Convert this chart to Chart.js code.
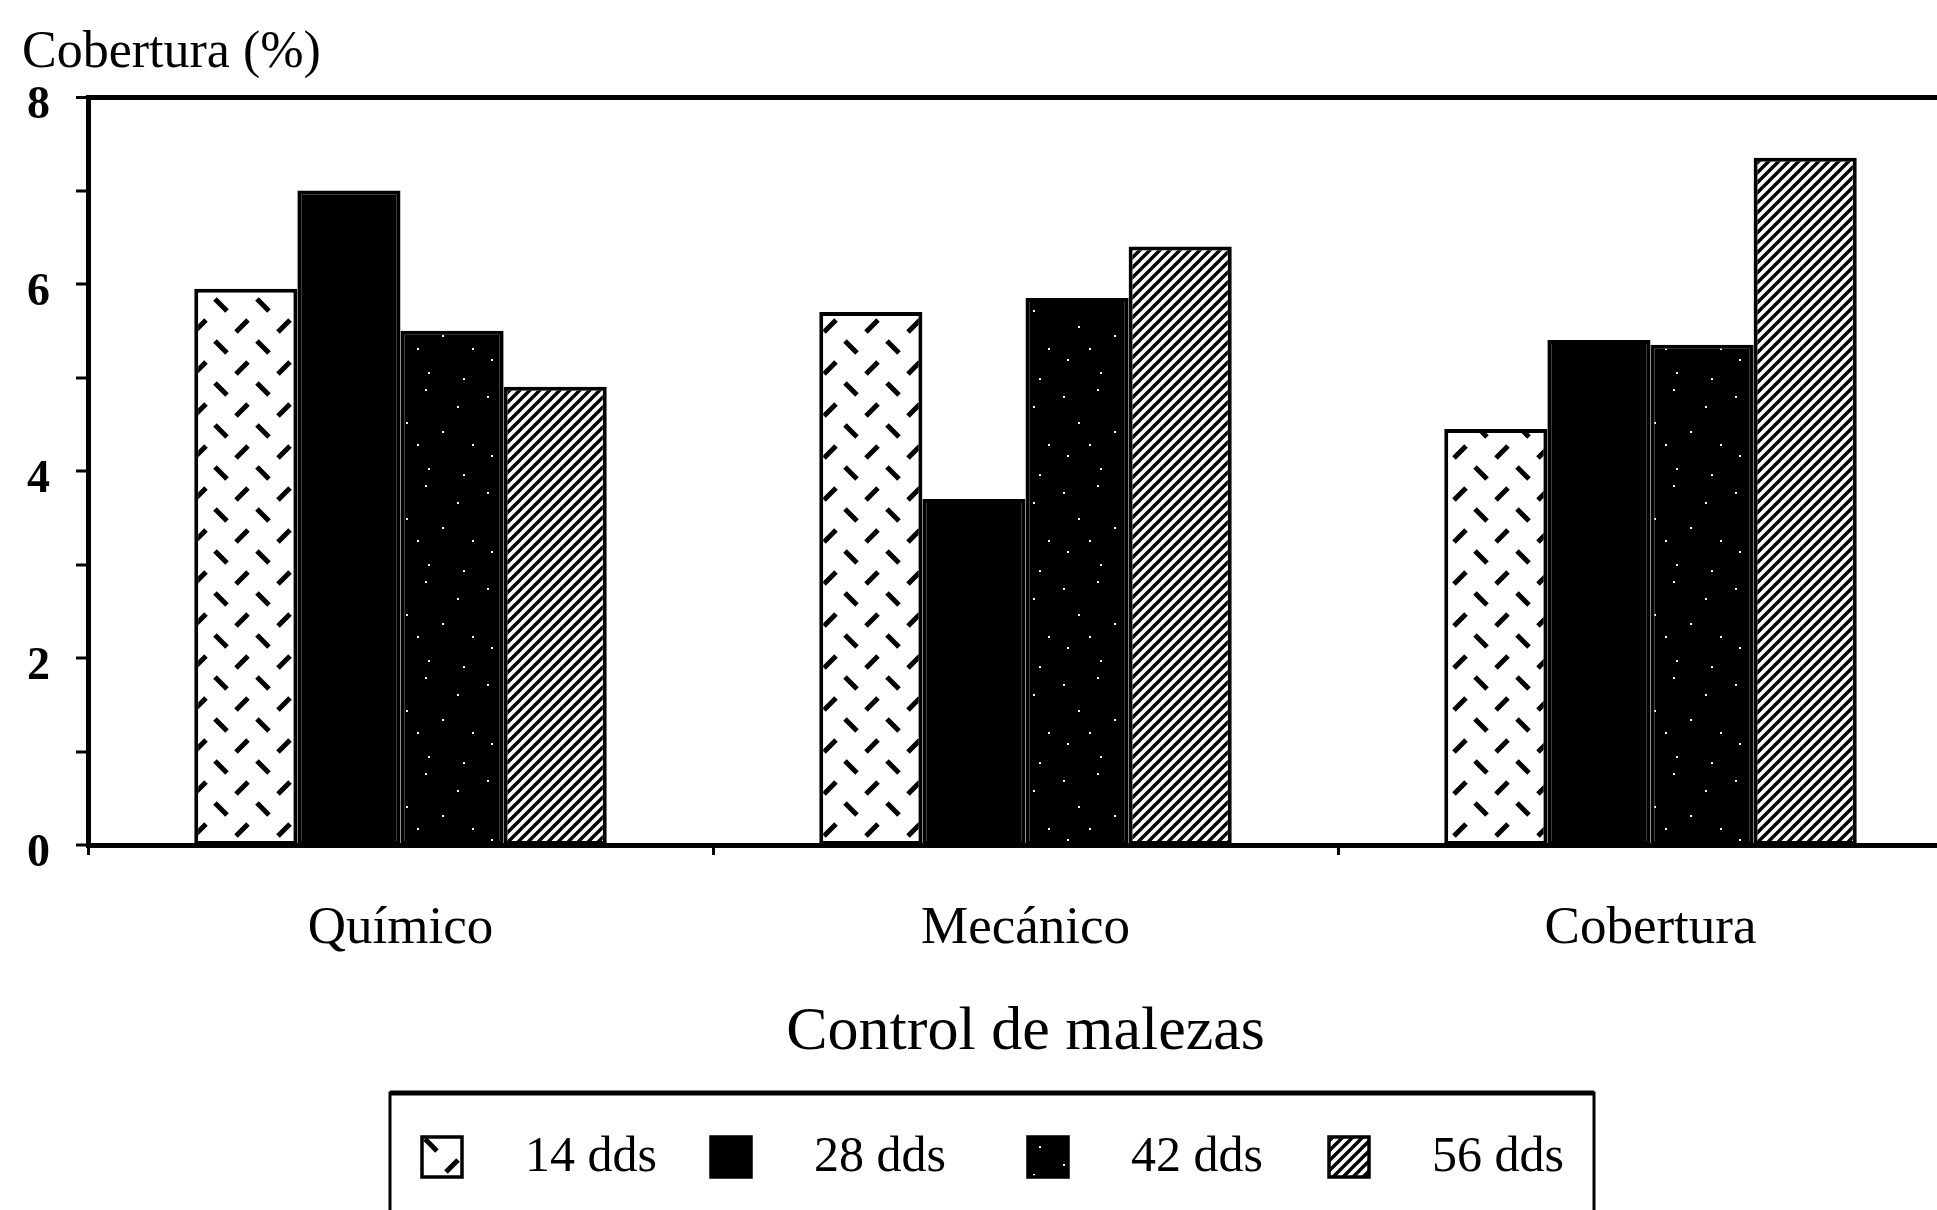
<!DOCTYPE html>
<html>
<head>
<meta charset="utf-8">
<script src="https://cdn.jsdelivr.net/npm/chart.js@4/dist/chart.umd.min.js"></script>
<style>
  html, body { margin: 0; padding: 0; background: #fff; overflow: hidden; }
  canvas { display: block; }
</style>
</head>
<body>
<canvas id="chart" width="1965" height="1210"></canvas>
<script>
// Weed cover per control method, sampled at four dates (días después de siembra)
const categories = ['Químico', 'Mecánico', 'Cobertura'];
const seriesLabels = ['14 dds', '28 dds', '42 dds', '56 dds'];
const dds14 = [5.95, 5.7, 4.45];
const dds28 = [7.0, 3.7, 5.4];
const dds42 = [5.5, 5.85, 5.35];
const dds56 = [4.9, 6.4, 7.35];
const yTickLabels = [0, 2, 4, 6, 8];
const yCaption = 'Cobertura (%)';
const xCaption = 'Control de malezas';

const SERIF = '"Liberation Serif", "Times New Roman", serif';

// ---- fill patterns -------------------------------------------------------
function makeTile(w, h, paint) {
  const c = document.createElement('canvas');
  c.width = w; c.height = h;
  paint(c.getContext('2d'), w, h);
  return c;
}

const canvas = document.getElementById('chart');
const ctx = canvas.getContext('2d');

// white ground with alternating short "\" and "/" dashes
const dashTile = makeTile(42, 42, (g, w, h) => {
  g.fillStyle = '#fff'; g.fillRect(0, 0, w, h);
  g.strokeStyle = '#000'; g.lineWidth = 5; g.lineCap = 'butt';
  g.beginPath();
  g.moveTo(5, 5); g.lineTo(17, 17);
  g.moveTo(26, 38); g.lineTo(38, 26);
  g.stroke();
});

// solid black
const solidFill = '#000';

// black with sparse white speckles
const speckleTile = makeTile(96, 96, (g, w, h) => {
  g.fillStyle = '#000'; g.fillRect(0, 0, w, h);
  g.fillStyle = '#fff';
  const dots = [[7, 12], [41, 5], [73, 22], [22, 38], [58, 47], [88, 60], [11, 71], [44, 84], [79, 90], [33, 60]];
  dots.forEach(([x, y]) => g.fillRect(x, y, 2, 2));
});

// dense "/" hatching
const hatchTile = makeTile(10, 10, (g, w, h) => {
  g.fillStyle = '#fff'; g.fillRect(0, 0, w, h);
  g.strokeStyle = '#000'; g.lineWidth = 3.4;
  g.beginPath();
  g.moveTo(-2, 12); g.lineTo(12, -2);
  g.moveTo(-7, 7); g.lineTo(7, -7);
  g.moveTo(3, 17); g.lineTo(17, 3);
  g.stroke();
});

const fills = [
  ctx.createPattern(dashTile, 'repeat'),
  solidFill,
  ctx.createPattern(speckleTile, 'repeat'),
  ctx.createPattern(hatchTile, 'repeat')
];
const seriesValues = [dds14, dds28, dds42, dds56];

// ---- captions and boxed legend -------------------------------------------
const legendBox = { left: 390, top: 1093, right: 1594, bottom: 1216 };
const legendColumns = [32, 321, 638, 939];   // icon offsets inside the box
const legendIcon = 40;
const legendTextGap = 63;

const decorations = {
  id: 'decorations',
  afterDraw(chart) {
    const c = chart.ctx;
    c.save();
    c.fillStyle = '#000';
    c.textAlign = 'left';
    c.textBaseline = 'alphabetic';
    c.font = '52px ' + SERIF;
    c.fillText(yCaption, 22, 67);

    // legend frame
    c.strokeStyle = '#000';
    c.lineWidth = 3;
    c.strokeRect(legendBox.left, legendBox.top, legendBox.right - legendBox.left, legendBox.bottom - legendBox.top);
    c.lineWidth = 5;
    c.beginPath();
    c.moveTo(legendBox.left, legendBox.top);
    c.lineTo(legendBox.right, legendBox.top);
    c.stroke();

    const iconTop = legendBox.top + 44;
    chart.data.datasets.forEach((ds, i) => {
      const x = legendBox.left + legendColumns[i];
      c.fillStyle = ds.backgroundColor;
      c.fillRect(x, iconTop, legendIcon, legendIcon);
      c.lineWidth = 3.5;
      c.strokeStyle = '#000';
      c.strokeRect(x, iconTop, legendIcon, legendIcon);
      c.fillStyle = '#000';
      c.font = '50px ' + SERIF;
      c.textBaseline = 'middle';
      c.fillText(ds.label, x + legendIcon + legendTextGap, iconTop + legendIcon / 2 + 1);
    });
    c.restore();
  }
};

new Chart(ctx, {
  type: 'bar',
  data: {
    labels: categories,
    datasets: seriesLabels.map((label, i) => ({
      label,
      data: seriesValues[i],
      backgroundColor: fills[i],
      borderColor: '#000',
      borderWidth: 4,
      borderSkipped: false,
      categoryPercentage: 0.66,
      barPercentage: 1.0
    }))
  },
  options: {
    responsive: false,
    devicePixelRatio: 1,
    animation: false,
    layout: { padding: { top: 97, left: 0, right: 2, bottom: 117 } },
    plugins: {
      legend: { display: false },
      title: { display: false },
      tooltip: { enabled: false }
    },
    scales: {
      x: {
        offset: true,
        grid: {
          offset: true,
          drawOnChartArea: false,
          drawTicks: true,
          tickLength: 10,
          tickWidth: 3,
          tickColor: '#000'
        },
        border: { display: true, color: '#000', width: 5 },
        ticks: {
          color: '#000',
          font: { family: SERIF, size: 53 },
          padding: 42,
          maxRotation: 0
        },
        title: {
          display: true,
          text: xCaption,
          color: '#000',
          font: { family: SERIF, size: 62 },
          padding: { top: 0, bottom: 23 }
        },
        afterFit: s => { s.height = 248; }
      },
      y: {
        min: 0,
        max: 8,
        ticks: {
          stepSize: 1,
          color: '#000',
          font: { family: SERIF, size: 46, weight: 'bold' },
          padding: 26,
          labelOffset: 9,
          callback: v => (yTickLabels.includes(v) ? String(v) : '')
        },
        grid: {
          color: '#000',
          lineWidth: c => (c.tick && c.tick.value === 8 ? 5 : 0),
          drawTicks: true,
          tickLength: 12,
          tickWidth: 3,
          tickColor: '#000'
        },
        border: { display: true, color: '#000', width: 5 },
        afterFit: s => { s.width = 88; }
      }
    }
  },
  plugins: [decorations]
});
</script>
</body>
</html>
